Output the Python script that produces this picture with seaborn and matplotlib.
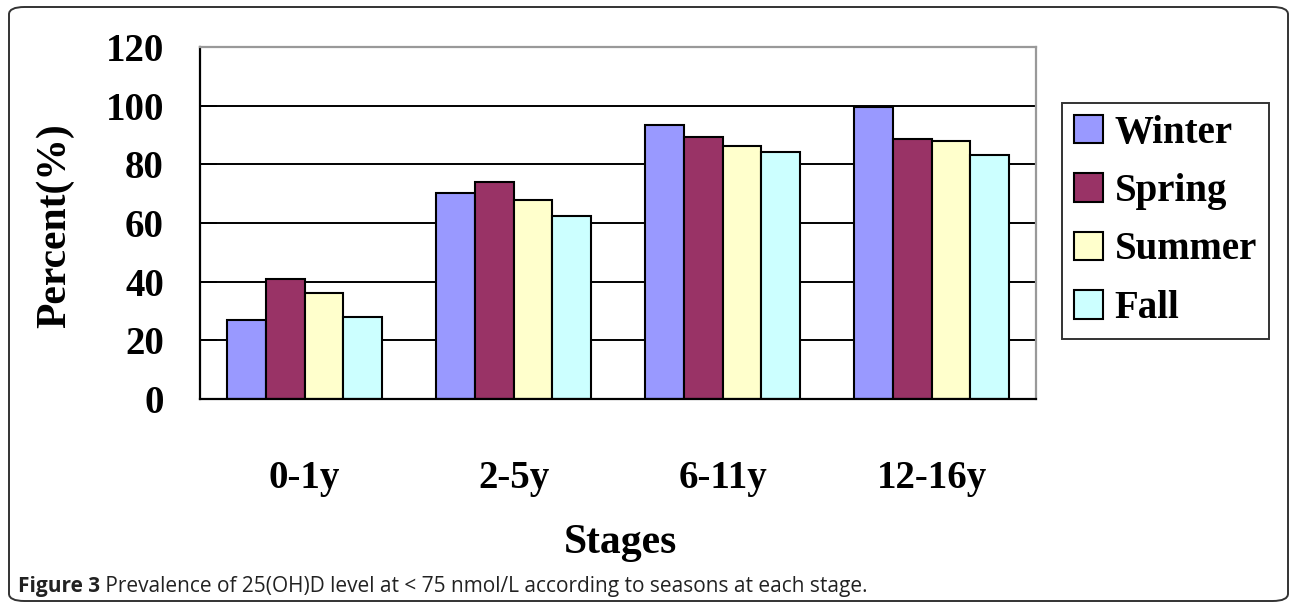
import matplotlib
matplotlib.use("Agg")
import matplotlib.pyplot as plt
import seaborn as sns
import pandas as pd
from matplotlib import font_manager
from matplotlib.patches import FancyBboxPatch

stages = ["0-1y", "2-5y", "6-11y", "12-16y"]
seasons = ["Winter", "Spring", "Summer", "Fall"]
winter = [27.0, 70.2, 93.3, 99.6]
spring = [40.9, 74.0, 89.4, 88.7]
summer = [36.1, 67.7, 86.4, 88.0]
fall = [27.8, 62.5, 84.1, 83.3]
yticks = [0, 20, 40, 60, 80, 100, 120]
colors = ["#9999FF", "#993366", "#FFFFCC", "#CCFFFF"]

rows = []
for season, vals in zip(seasons, [winter, spring, summer, fall]):
    for stage, v in zip(stages, vals):
        rows.append({"Stage": stage, "Season": season, "Percent": v})
df = pd.DataFrame(rows)

sns.set_style("white")
serif = "Liberation Serif"
names = {f.name for f in font_manager.fontManager.ttflist}
cap_font = "Liberation Sans Narrow" if "Liberation Sans Narrow" in names else "Open Sans"
plt.rcParams["font.family"] = [serif, "DejaVu Serif"]
plt.rcParams["text.color"] = "black"

fig = plt.figure(figsize=(12.9, 6.08), dpi=100)
W, H = 1290, 608
ax = fig.add_axes([200 / W, 1 - 399 / H, 836 / W, 352 / H])

sns.barplot(data=df, x="Stage", y="Percent", hue="Season", order=stages,
            hue_order=seasons, palette=colors, width=0.74, gap=0,
            edgecolor="black", linewidth=1.5, saturation=1, ax=ax)

ax.set_ylim(0, 120)
ax.set_xlim(-0.5, 3.5)
ax.set_yticks(yticks)
ax.set_yticklabels([str(t) for t in yticks], fontsize=28, fontweight="bold", color="black")
for y in yticks[1:-1]:
    ax.axhline(y, color="black", lw=1.4, zorder=0)

ax.set_xticks(range(len(stages)))
ax.set_xticklabels(stages, fontsize=28, fontweight="bold", color="black")
ax.set_xticks([0.5, 1.5, 2.5, 3.5], minor=True)
ax.tick_params(axis="x", which="major", length=0, pad=44)
ax.tick_params(axis="x", which="minor", direction="in", length=12, width=1.4, color="black")
ax.tick_params(axis="y", direction="in", length=12, width=1.4, color="black", pad=26, left=True)

ax.set_xlabel("")
ax.set_ylabel("")
for side in ["left", "bottom"]:
    ax.spines[side].set_color("black")
    ax.spines[side].set_linewidth(1.6)
for side in ["top", "right"]:
    ax.spines[side].set_color("#999999")
    ax.spines[side].set_linewidth(1.6)

fig.text(620 / W, 1 - 543 / H, "Stages", fontsize=30, fontweight="bold",
         ha="center", va="center")
fig.text(55 / W, 1 - 226 / H, "Percent(%)", fontsize=30, fontweight="bold",
         ha="center", va="center", rotation=90)

leg = ax.legend(loc="upper left", bbox_to_anchor=(1062 / W, 1 - 103 / H),
                bbox_transform=fig.transFigure, prop={"size": 28, "weight": "bold"},
                frameon=True, fancybox=False, edgecolor="black",
                handlelength=0.75, handleheight=0.75, handletextpad=0.3,
                labelspacing=0.55, borderpad=0.3, borderaxespad=0)
leg.get_frame().set_linewidth(1.4)

cap1 = fig.text(18 / W, 1 - 592 / H, "Figure 3", fontsize=15, fontweight="bold",
                family=[cap_font, "DejaVu Sans"], color="#222222", va="baseline")
cap2 = fig.text(0, 0, " Prevalence of 25(OH)D level at < 75 nmol/L according to seasons at each stage.",
                fontsize=15, family=[cap_font, "DejaVu Sans"], color="#222222",
                va="baseline")

fig.canvas.draw()
bb = cap1.get_window_extent()
cap2.set_position((bb.x1 / W, 1 - 592 / H))

border = FancyBboxPatch((9 / W, 1 - 601 / H), 1279 / W, 594 / H,
                        boxstyle="round,pad=0,rounding_size=0.012",
                        transform=fig.transFigure, fill=False,
                        edgecolor="#333333", lw=1.4)
fig.patches.append(border)

fig.savefig("out.png", dpi=100)
